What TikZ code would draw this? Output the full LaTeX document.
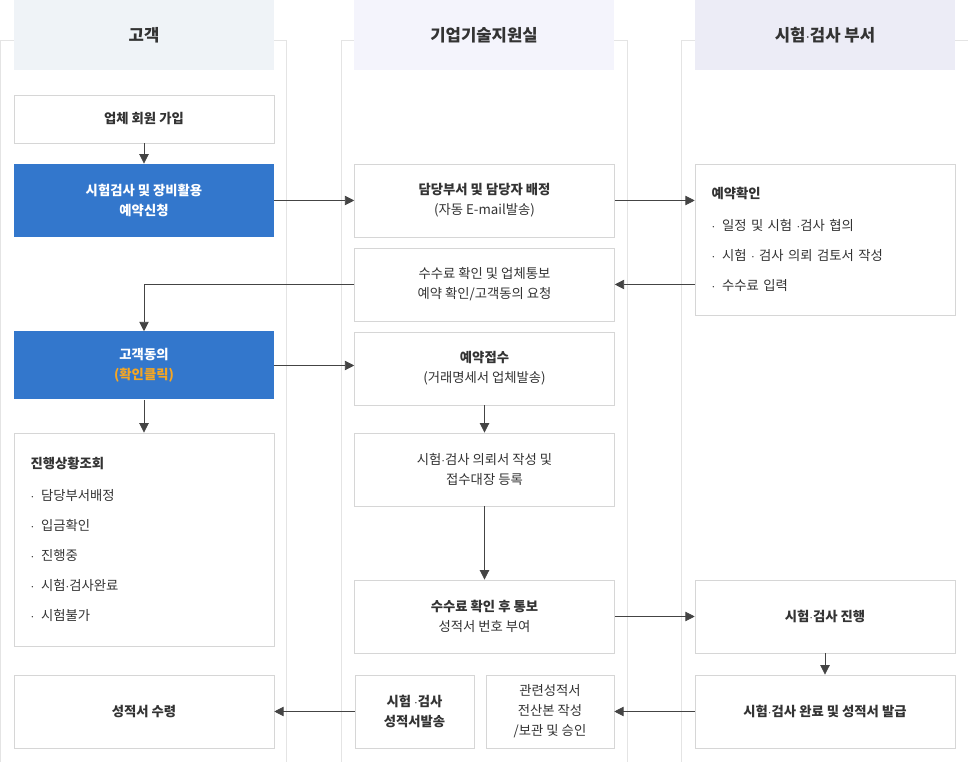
\documentclass[tikz,border=0pt]{standalone}
\usepackage{fontspec}
\setmainfont{Noto Sans CJK KR}
\usetikzlibrary{positioning}
\usetikzlibrary{arrows.meta}
\definecolor{lanegray}{HTML}{E4E4E4}
\definecolor{boxgray}{HTML}{D6D6D6}
\definecolor{headA}{HTML}{EFF3F7}
\definecolor{headB}{HTML}{F4F4FC}
\definecolor{headC}{HTML}{ECECF6}
\definecolor{stepblue}{HTML}{3377CC}
\definecolor{clickorange}{HTML}{F5A623}
\definecolor{txt}{HTML}{333333}
\definecolor{arrowgray}{HTML}{444444}

\begin{document}
\begin{tikzpicture}[
            x = 0.75pt, y = -0.75pt,
            > = {Triangle[length=7pt,width=7pt]},
            font = \fontsize{10}{15}\selectfont,
            text = txt
        ]

        \tikzset{
            lane/.style = {draw = lanegray, fill = white},
            head/.style = {minimum width = 195pt, minimum height = 52.5pt, font = \fontsize{12.5}{15}\selectfont\bfseries},
            stepbox/.style = {draw = boxgray, fill = white, minimum width = 195pt, align = center},
            bluebox/.style = {fill = stepblue, text = white, minimum width = 195pt, align = center, font = \fontsize{10}{15}\selectfont\bfseries},
            flow/.style = {->, arrowgray, line width = 0.6pt}
        }

        \useasboundingbox (0,0) rectangle (968,762);

        % lanes
        \draw[lane] (0,40) rectangle (286,770);
        \draw[lane] (341,40) rectangle (627,770);
        \draw[lane] (681,40) rectangle (975,770);

        \node[head, fill = headA] (H1) at (144,35) {고객};
        \node[head, fill = headB] (H2) at (484,35) {기업기술지원실};
        \node[head, fill = headC] (H3) at (825,35) {시험$\cdot$검사 부서};

        % customer
        \node[stepbox, minimum height = 36pt, font = \fontsize{10}{15}\selectfont\bfseries] (Join) at (144,119) {업체 회원 가입};
        \node[bluebox, minimum height = 55pt] (Apply) at (144,200.5) {시험검사 및 장비활용\\예약신청};
        \node[bluebox, minimum height = 51pt] (Agree) at (144,365.5) {고객동의\\\textcolor{clickorange}{(확인클릭)}};
        \node[stepbox, minimum height = 160pt, align = left, text width = 170pt, font = \fontsize{10}{22.5}\selectfont] (Track) at (144,539.5) {\textbf{진행상황조회}\\[2pt]
            $\cdot$\enspace 담당부서배정\\ $\cdot$\enspace 입금확인\\ $\cdot$\enspace 진행중\\ $\cdot$\enspace 시험$\cdot$검사완료\\ $\cdot$\enspace 시험불가};
        \node[stepbox, minimum height = 55pt, font = \fontsize{10}{15}\selectfont\bfseries] (Receive) at (144,711.5) {성적서 수령};

        % support office
        \node[stepbox, minimum height = 55pt] (Assign) at (484.5,200.5) {\textbf{담당부서 및 담당자 배정}\\(자동 E-mail발송)};
        \node[stepbox, minimum height = 55pt] (Notify) at (484.5,284.5) {수수료 확인 및 업체통보\\예약 확인/고객동의 요청};
        \node[stepbox, minimum height = 55pt] (Book) at (484.5,368.5) {\textbf{예약접수}\\(거래명세서 업체발송)};
        \node[stepbox, minimum height = 55pt] (Register) at (484.5,469.5) {시험$\cdot$검사 의뢰서 작성 및\\접수대장 등록};
        \node[stepbox, minimum height = 55pt] (Number) at (484.5,616.5) {\textbf{수수료 확인 후 통보}\\성적서 번호 부여};
        \node[stepbox, minimum width = 89pt, minimum height = 55pt, font = \fontsize{10}{15}\selectfont\bfseries] (Send) at (414.5,711.5) {시험 $\cdot$검사\\성적서발송};
        \node[stepbox, minimum width = 96pt, minimum height = 55pt] (Archive) at (550,711.5) {관련성적서\\전산본 작성\\/보관 및 승인};

        % test department
        \node[stepbox, minimum height = 113pt, align = left, text width = 170pt, font = \fontsize{10}{22.5}\selectfont] (Check) at (825,239.5) {\textbf{예약확인}\\[2pt]
            $\cdot$\enspace 일정 및 시험 $\cdot$검사 협의\\ $\cdot$\enspace 시험 $\cdot$ 검사 의뢰 검토서 작성\\ $\cdot$\enspace 수수료 입력};
        \node[stepbox, minimum height = 55pt, font = \fontsize{10}{15}\selectfont\bfseries] (Test) at (825,616.5) {시험$\cdot$검사 진행};
        \node[stepbox, minimum height = 55pt, font = \fontsize{10}{15}\selectfont\bfseries] (Issue) at (825,711.5) {시험$\cdot$검사 완료 및 성적서 발급};

        % connectors
        \draw[flow] (Join) -- (Apply);
        \draw[flow] (Apply) -- (Assign);
        \draw[flow] (Assign) -- (Assign -| Check.west);
        \draw[flow] (Check.west |- Notify) -- (Notify);
        \draw[flow] (Notify.west) -| (Agree.north);
        \draw[flow] (Agree.east |- Agree) -- (Book.west |- Agree);
        \draw[flow] (Agree) -- (Track);
        \draw[flow] (Book) -- (Register);
        \draw[flow] (Register) -- (Number);
        \draw[flow] (Number) -- (Test);
        \draw[flow] (Test) -- (Issue);
        \draw[flow] (Issue) -- (Archive);
        \draw[flow] (Send) -- (Receive);

\end{tikzpicture}
\end{document}
